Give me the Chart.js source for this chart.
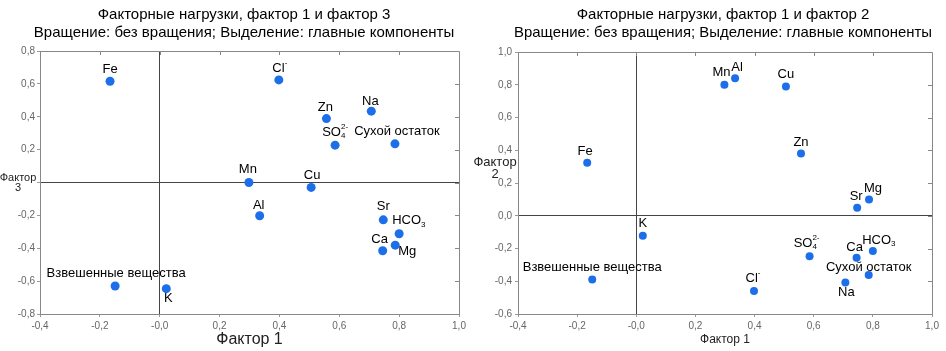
<!DOCTYPE html>
<html>
<head>
<meta charset="utf-8">
<script src="https://cdn.jsdelivr.net/npm/chart.js@4"></script>
<style>
    body { margin: 0; background: #fff; }
    .wrap { position: absolute; top: 0; height: 351px; }
</style>
</head>
<body>
<div class="wrap" style="left:0;width:470px"><canvas id="chart13"></canvas></div>
<div class="wrap" style="left:470px;width:476px"><canvas id="chart12"></canvas></div>
<script>
// переменные и факторные нагрузки
const elements = ['Fe', 'Mn', 'Al', 'Cu', 'Zn', 'Sr', 'Mg', 'K', 'Взвешенные вещества',
    'SO₄²⁻', 'HCO₃', 'Ca', 'Сухой остаток', 'Na', 'Cl⁻'];
const factor1 = [-0.166, 0.298, 0.334, 0.506, 0.557, 0.747, 0.787, 0.022, -0.149,
    0.586, 0.800, 0.745, 0.786, 0.707, 0.398];
const factor2 = [0.324, 0.800, 0.840, 0.790, 0.380, 0.049, 0.100, -0.122, -0.390,
    -0.248, -0.215, -0.256, -0.362, -0.407, -0.460];
const factor3 = [0.616, 0.000, -0.202, -0.030, 0.389, -0.227, -0.381, -0.646, -0.630,
    0.227, -0.312, -0.415, 0.235, 0.434, 0.624];

const xTickRange = [-0.4, 1.0];
const yTickRange13 = [-0.8, 0.8];
const yTickRange12 = [-0.6, 1.0];
const tickStep = 0.2;

const FONT = '"Liberation Sans", Arial, sans-serif';
const SUB = { '₀': '0', '₁': '1', '₂': '2', '₃': '3', '₄': '4' };
const SUP = { '²': '2', '³': '3', '⁻': '-' };

function fmt(v) { return v.toFixed(1).replace('.', ','); }

function splitRuns(text) {
    const out = [];
    for (const ch of text) {
        const kind = SUB[ch] ? 'sub' : (SUP[ch] ? 'sup' : 'base');
        const c = SUB[ch] || SUP[ch] || ch;
        const last = out[out.length - 1];
        if (last && last.kind === kind) last.t += c; else out.push({ kind, t: c });
    }
    return out;
}

// текст с индексами (SO4 2-, HCO3, Cl-)
function drawRich(ctx, text, x, y, align, size) {
    const small = Math.round(size * 0.6);
    const runs = splitRuns(text);
    const items = [];
    let w = 0;
    for (let i = 0; i < runs.length; i++) {
        const r = runs[i];
        ctx.font = (r.kind === 'base' ? size : small) + 'px ' + FONT;
        const rw = ctx.measureText(r.t).width;
        items.push({ ...r, x: w });
        const next = runs[i + 1];
        if (r.kind !== 'base' && next && next.kind !== 'base') {
            const nw = ctx.measureText(next.t).width;
            items.push({ ...next, x: w });
            w += Math.max(rw, nw);
            i++;
        } else {
            w += rw;
        }
    }
    const x0 = align === 'left' ? x : x - w / 2;
    ctx.textAlign = 'left';
    ctx.textBaseline = 'middle';
    items.forEach(it => {
        let dy = 0;
        if (it.kind === 'sup') dy = -size * 0.42;
        if (it.kind === 'sub') dy = size * 0.3;
        ctx.font = (it.kind === 'base' ? size : small) + 'px ' + FONT;
        ctx.fillText(it.t, x0 + it.x, y + dy);
    });
}

const pointLabels = {
    id: 'pointLabels',
    beforeDatasetsDraw(chart, args, opts) {
        const ctx = chart.ctx;
        const meta = chart.getDatasetMeta(0);
        ctx.save();
        ctx.fillStyle = '#000';
        meta.data.forEach((pt, i) => {
            const o = opts.offsets[i] || [0, -12, 'center'];
            drawRich(ctx, elements[i], pt.x + o[0], pt.y + o[1], o[2], opts.size);
        });
        ctx.restore();
    }
};

// рамка, внутренние засечки и подпись оси Y
const frame = {
    id: 'frame',
    afterLayout(chart) {
        // подписи оси Y не обрезать по узкой ширине оси
        chart.scales.y.left = 0;
    },
    afterDraw(chart, args, opts) {
        const { ctx, chartArea: a, scales } = chart;
        ctx.save();
        ctx.strokeStyle = '#888';
        ctx.lineWidth = 1;
        ctx.beginPath();
        ctx.moveTo(a.left, a.top + 0.5);
        ctx.lineTo(a.right + 0.5, a.top + 0.5);
        ctx.lineTo(a.right + 0.5, a.bottom);
        scales.x.ticks.forEach(t => {
            const px = Math.round(scales.x.getPixelForValue(t.value)) + 0.5;
            if (px > a.left + 2 && px < a.right - 2) { ctx.moveTo(px, a.top); ctx.lineTo(px, a.top + 4); }
        });
        scales.y.ticks.forEach(t => {
            const py = Math.round(scales.y.getPixelForValue(t.value)) + 0.5;
            if (py > a.top + 2 && py < a.bottom - 2) { ctx.moveTo(a.right, py); ctx.lineTo(a.right - 4, py); }
        });
        ctx.stroke();

        ctx.fillStyle = '#222';
        ctx.font = opts.size + 'px ' + FONT;
        ctx.textAlign = 'center';
        ctx.textBaseline = 'middle';
        opts.lines.forEach((s, i) => ctx.fillText(s, opts.x, opts.y + i * opts.size * 0.95));
        ctx.restore();
    }
};

function makeChart(id, yValues, yRange, cfg) {
    const ctx = document.getElementById(id).getContext('2d');
    return new Chart(ctx, {
        type: 'scatter',
        data: {
            datasets: [{
                data: factor1.map((v, i) => ({ x: v, y: yValues[i] })),
                pointBackgroundColor: '#1c6fe8',
                pointBorderWidth: 0,
                pointRadius: cfg.radius,
                pointHoverRadius: cfg.radius
            }]
        },
        options: {
            responsive: true,
            maintainAspectRatio: false,
            animation: false,
            devicePixelRatio: 1,
            layout: { padding: { left: cfg.padLeft, right: cfg.padRight, top: 0, bottom: 0 } },
            plugins: {
                legend: { display: false },
                tooltip: { enabled: false },
                title: {
                    display: true,
                    text: cfg.title,
                    color: '#000',
                    font: { family: FONT, size: 15, weight: 'normal', lineHeight: 1.25 },
                    padding: { top: 5, bottom: cfg.titleGap }
                },
                pointLabels: { offsets: cfg.offsets, size: 13 },
                frame: cfg.yTitle
            },
            scales: {
                x: {
                    type: 'linear',
                    min: xTickRange[0],
                    max: xTickRange[1],
                    afterFit: s => { s.height = 37; },
                    ticks: {
                        stepSize: tickStep,
                        color: '#666',
                        font: { family: FONT, size: 10 },
                        padding: 3,
                        maxRotation: 0,
                        callback: v => fmt(v)
                    },
                    grid: {
                        color: c => (c.tick && Math.abs(c.tick.value) < 1e-9) ? '#444' : 'rgba(0,0,0,0)',
                        tickColor: '#999',
                        tickLength: 3
                    },
                    border: { color: '#888' },
                    title: {
                        display: true,
                        text: 'Фактор 1',
                        color: '#222',
                        font: { family: FONT, size: cfg.xTitleSize },
                        padding: { top: 0, bottom: cfg.xTitlePad }
                    }
                },
                y: {
                    type: 'linear',
                    min: yRange[0],
                    max: yRange[1],
                    afterFit: s => { s.width = cfg.yWidth; },
                    ticks: {
                        stepSize: tickStep,
                        color: '#666',
                        font: { family: FONT, size: 10 },
                        padding: cfg.yTickPad,
                        callback: v => (cfg.hideZero && Math.abs(v) < 1e-9) ? '' : fmt(v)
                    },
                    grid: {
                        color: c => (c.tick && Math.abs(c.tick.value) < 1e-9) ? '#444' : 'rgba(0,0,0,0)',
                        tickColor: '#999',
                        tickLength: 3
                    },
                    border: { color: '#888' }
                }
            }
        },
        plugins: [pointLabels, frame]
    });
}

makeChart('chart13', factor3, yTickRange13, {
    title: ['Факторные нагрузки, фактор 1 и фактор 3', 'Вращение: без вращения; Выделение: главные компоненты'],
    titleGap: 8.5,
    padLeft: 29,
    padRight: 11,
    yWidth: 11,
    yTickPad: 2,
    hideZero: true,
    radius: 4.5,
    xTitleSize: 16,
    xTitlePad: 2,
    yTitle: { lines: ['Фактор', '3'], x: 18, y: 178, size: 11 },
    offsets: [
        [0, -12, 'center'], [-1, -13, 'center'], [-1, -10, 'center'], [1, -12, 'center'],
        [-1, -11, 'center'], [0, -13, 'center'], [3, 6, 'left'], [2, 10, 'center'],
        [1, -13, 'center'], [0, -13, 'center'], [-7, -13, 'left'], [-3, -11, 'center'],
        [2, -12, 'center'], [-1, -10, 'center'], [1, -12, 'center']
    ]
});

makeChart('chart12', factor2, yTickRange12, {
    title: ['Факторные нагрузки, фактор 1 и фактор 2', 'Вращение: без вращения; Выделение: главные компоненты'],
    titleGap: 9.5,
    padLeft: 44,
    padRight: 14,
    yWidth: 4,
    yTickPad: 3,
    hideZero: false,
    radius: 4,
    xTitleSize: 12,
    xTitlePad: 4,
    yTitle: { lines: ['Фактор', '2'], x: 25, y: 162, size: 13 },
    offsets: [
        [-2, -11, 'center'], [-3, -12, 'center'], [2, -11, 'center'], [0, -12, 'center'],
        [0, -11, 'center'], [-1, -11, 'center'], [4, -11, 'center'], [0, -12, 'center'],
        [0, -12, 'center'], [-3, -13, 'center'], [6, -11, 'center'], [-2, -10, 'center'],
        [0, -8, 'center'], [1, 10, 'center'], [-1, -13, 'center']
    ]
});
</script>
</body>
</html>
